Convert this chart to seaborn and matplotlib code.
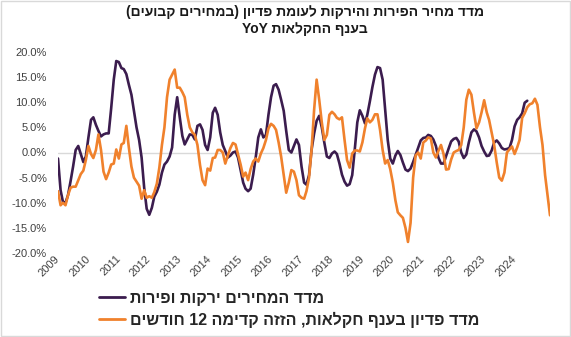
import re
import numpy as np
import pandas as pd
import matplotlib
matplotlib.use("Agg")
import matplotlib.pyplot as plt
from matplotlib.patches import Rectangle
from matplotlib.font_manager import FontProperties
import seaborn as sns

# ---------------- data ----------------
title_line1 = "מדד מחיר הפירות והירקות לעומת פדיון (במחירים קבועים)"
title_line2 = "בענף החקלאות YoY"
series_names = ["מדד המחירים ירקות ופירות", "מדד פדיון בענף חקלאות, הזזה קדימה 12 חודשים"]
series_colors = ["#3b1c4e", "#f0812c"]
start_month = "2009-01"

prices_yoy = [
    -1.2, -7.5, -9.8, -10, -8.5, -5.7, -2.8, 0.5, 1.3, -0.3, -1.9, -0.8,
    3, 6.5, 7, 5.5, 4.3, 3.2, 3.6, 3.8, 3.8, 8.8, 14.5, 18.2,
    18, 16.8, 16.6, 15.6, 13.5, 11.5, 8.3, 5, 2.5, -1, -7, -11.2,
    -12.4, -11, -8.8, -7.8, -6.4, -4, -2.4, -1.8, -0.8, 1, 7.5, 11,
    7, 3.3, 1.6, 2.6, 3.6, 3.5, 2.6, 5.3, 5.6, 4.5, 1.5, 0.5,
    3, 7.9, 8.9, 7.5, 4, 1.5, 0.3, -1, -0.6, 0, 0.2, -1,
    -3.5, -6, -7.2, -7.7, -7.2, -4.4, -1, 3, 4.6, 3, 3.5, 7.5,
    11, 13.3, 13.6, 12.5, 10.5, 8.3, 4.3, 0.5, 0, 1.3, 2.6, 1.5,
    -2.8, -6, -6.4, -4.5, 0.5, 3.8, 6.3, 7.3, 5, 2, -0.8, -1.1,
    -0.2, 0.2, -0.3, -2.2, -4.4, -5.8, -6.6, -6.3, -4.5, 0.5, 6, 8.4,
    7.3, 5.8, 7.5, 10.2, 13, 15.5, 17, 16.8, 14.5, 8.5, 2.5, -1.2,
    -2.2, -0.6, 0.3, -0.5, -2, -3.4, -3.7, -3.2, -1.9, -0.5, 1, 2.4,
    2.9, 3, 3.5, 3.3, 2.6, 1.3, -1, -2.2, -2.2, -0.7, 0.8, 2.2,
    2.7, 2.9, 2.2, 0, -1.1, -0.4, 2, 4, 4.6, 4.2, 3, 1.3,
    0.2, -0.7, -0.6, 0.4, 2, 2.4, 1.8, 0.9, 0.6, 0.7, 0.9, 2.5,
    5.2, 6.5, 7, 7.8, 9.9, 10.3,
]

output_yoy_lead12 = [
    -7.7, -10.5, -10, -10.5, -8.5, -7, -6.8, -6.8, -5.5, -4.3, -3.6, -1.5,
    1.3, -0.3, -1.1, 0.5, 3.6, 0.5, -3.8, -5.3, -4, -2.4, -2.2, 0.6,
    -1.2, 1.6, 1.9, 5.3, 1, -2.8, -5, -5.8, -6.6, -9.2, -7.5, -9,
    -8.7, -9, -7.9, -6.2, -3, 1.5, 5, 11, 14.5, 15.5, 16.5, 12.9,
    12.9, 12, 11, 7.5, 5, 4, 3.5, 1.5, -2.5, -5.5, -6.5, -3.2,
    -3.6, -1.1, -1, 0.5, 0.5, 0, -2.2, -0.6, 0.9, 1.9, 1.6, -0.4,
    -2.4, -4.8, -4, -5.5, -3.3, -1.8, -1.2, -1.8, -0.2, 0.9, 2.5, 4.8,
    5.7, 5.3, 4.5, 2, -0.8, -4.4, -8, -6, -3.5, -3.8, -5.5, -8.5,
    -9, -9.2, -7.7, -5, 0.5, 8.5, 14.5, 10.5, 6, 2.5, 3.5, 7.5,
    8.1, 7.6, 6.9, 6.6, 7, 2.5, -1.5, -3, -0.2, 0.4, 0.4, 0.2,
    2, 4.8, 6.8, 6, 6.5, 7.6, 7.6, 4.5, 0.5, -2.2, -1.5, -3.3,
    -6, -9.5, -11.9, -12.5, -13, -15, -17.8, -14, -5, -0.6, 0, -1.2,
    2, 2.4, 3, 2.8, 0, -1, 0.3, 1.5, -0.3, -3.4, -3.3, -1.4,
    0, 0.3, 0.5, 1.5, 5, 10.5, 12.5, 11.5, 7.9, 4.8, 6, 8,
    10.4, 8, 6.5, 4, 1.5, -2, -5, -5.6, -4, 0, 0.6, 1.2,
    -0.3, 1, 2.5, 6.9, 7.8, 9, 9.6, 9.8, 10.7, 9.5, 5, 1.5,
    -4.5, -8.7, -12.5,
]

year_ticks = list(range(2009, 2025))
y_ticks = [-20, -15, -10, -5, 0, 5, 10, 15, 20]


def bidi(s):
    """Simple visual reordering for right-to-left Hebrew text."""
    runs = re.findall(r"[A-Za-z0-9]+(?:[.,][0-9]+)*|[^A-Za-z0-9]+", s)
    out = []
    for r in reversed(runs):
        if re.match(r"[A-Za-z0-9]", r):
            out.append(r)
        else:
            out.append(r[::-1].translate(str.maketrans("()", ")(")))
    return "".join(out)


# ---------------- build frame ----------------
d1 = pd.DataFrame({
    "date": pd.date_range(start_month, periods=len(prices_yoy), freq="MS"),
    "value": prices_yoy,
    "series": series_names[0],
})
d2 = pd.DataFrame({
    "date": pd.date_range(start_month, periods=len(output_yoy_lead12), freq="MS"),
    "value": output_yoy_lead12,
    "series": series_names[1],
})
df = pd.concat([d1, d2], ignore_index=True)

# ---------------- plot ----------------
sns.set_theme(style="white")
plt.rcParams["font.family"] = ["Liberation Sans", "DejaVu Sans"]

fig = plt.figure(figsize=(5.71, 3.37), dpi=100)
ax = fig.add_axes([58 / 571, 1 - 253 / 337, (550 - 58) / 571, (253 - 52) / 337])

ax.axhline(0, color="#d9d9d9", lw=1.0, zorder=0)
sns.lineplot(data=df, x="date", y="value", hue="series",
             palette=dict(zip(series_names, series_colors)),
             linewidth=1.9, ax=ax, legend=True)

ax.set_ylim(-20, 20)
ax.set_xlim(pd.Timestamp("2009-01-01"), pd.Timestamp("2025-03-01"))
ax.set_yticks(y_ticks)
ax.set_yticklabels([f"{v:.1f}%" for v in y_ticks])
ax.set_xticks([pd.Timestamp(f"{y}-01-01") for y in year_ticks])
ax.set_xticklabels([str(y) for y in year_ticks])
ax.set_xlabel("")
ax.set_ylabel("")
for s in ax.spines.values():
    s.set_visible(False)
ax.tick_params(axis="y", length=0, pad=8, labelsize=8, labelcolor="#404040")
ax.tick_params(axis="x", length=0, pad=3, labelsize=8, labelcolor="#404040")
for lab in ax.get_xticklabels():
    lab.set_rotation(45)
    lab.set_ha("right")
    lab.set_va("center")
    lab.set_rotation_mode("anchor")

handles, labels = ax.get_legend_handles_labels()
ax.get_legend().remove()
fig.legend(handles, [bidi(l) for l in labels], loc="upper left",
           bbox_to_anchor=(99 / 571, 1 - 291 / 337), frameon=False,
           prop=FontProperties(family=["Liberation Sans", "DejaVu Sans"], weight="bold", size=11.5),
           handlelength=1.6, handletextpad=0.35, labelspacing=0.35, borderaxespad=0, borderpad=0)
for h in fig.legends[0].get_lines():
    h.set_linewidth(2.0)

fig.text(305 / 571, 1 - 5 / 337, bidi(title_line1) + "\n" + bidi(title_line2),
         ha="center", va="top", fontsize=10, fontweight="bold", color="#1a1a1a",
         linespacing=1.3, family=["Liberation Sans", "DejaVu Sans"])

fig.patches.append(Rectangle((0.001, 0.002), 0.997, 0.996, transform=fig.transFigure,
                             fill=False, edgecolor="#d9d9d9", lw=1))

fig.savefig("out.png", dpi=100, facecolor="white")
